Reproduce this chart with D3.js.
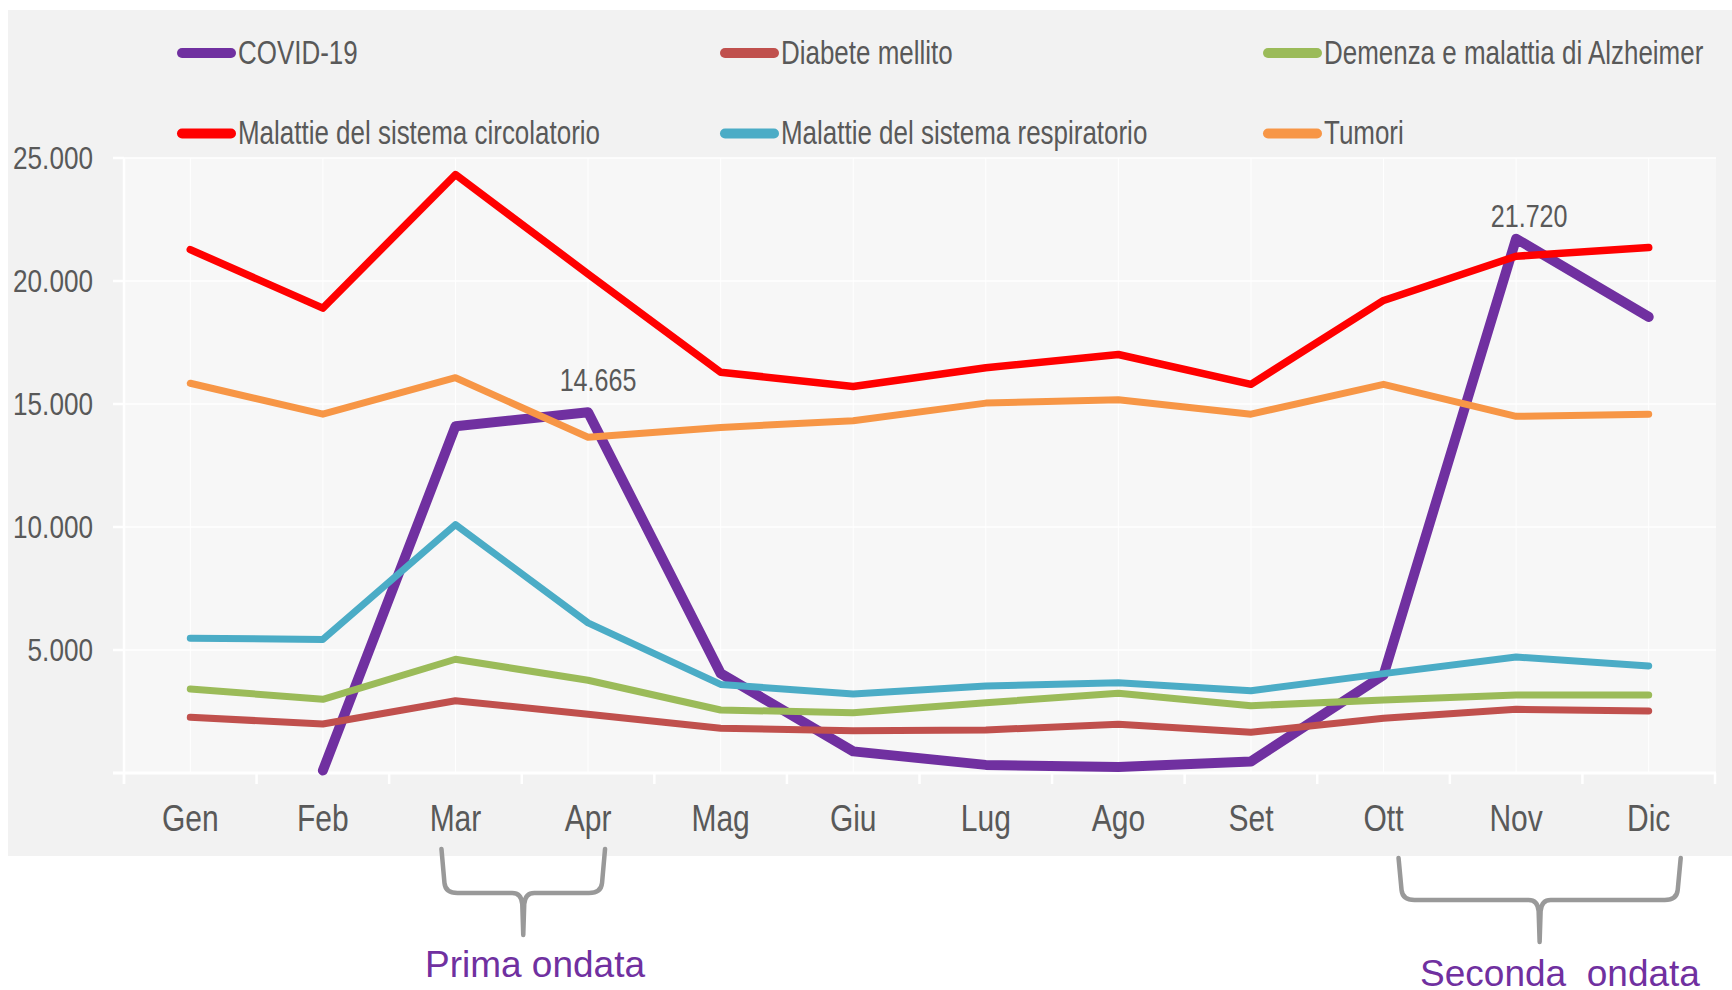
<!DOCTYPE html>
<html><head><meta charset="utf-8">
<script src="https://cdn.jsdelivr.net/npm/d3@7"></script>
<style>
html,body{margin:0;padding:0;background:#fff;}
svg{display:block;}
text{font-family:"Liberation Sans", Arial, Helvetica, sans-serif;}
</style>
</head><body>
<svg id="c" width="1732" height="990"></svg>
<script>
// ---- data ----
const months = ["Gen","Feb","Mar","Apr","Mag","Giu","Lug","Ago","Set","Ott","Nov","Dic"];
const seriesNames = ["COVID-19","Diabete mellito","Demenza e malattia di Alzheimer","Malattie del sistema circolatorio","Malattie del sistema respiratorio","Tumori"];
const covid        = [null, 100, 14093, 14665, 4050, 880, 330, 240, 470, 3980, 21720, 18540];
const diabete      = [2264, 1992, 2939, 2386, 1817, 1720, 1748, 1979, 1654, 2222, 2589, 2520];
const demenza      = [3415, 2995, 4623, 3770, 2561, 2451, 2858, 3240, 2736, 2967, 3171, 3171];
const circolatorio = [21275, 18896, 24327, 20287, 16293, 15709, 16472, 17011, 15799, 19210, 21005, 21364];
const respiratorio = [5476, 5431, 10099, 6104, 3600, 3211, 3537, 3671, 3346, 4039, 4713, 4354];
const tumori       = [15844, 14587, 16068, 13646, 14048, 14318, 15036, 15171, 14587, 15799, 14497, 14587];
const yTicks = [5000, 10000, 15000, 20000, 25000];
const labelledPoints = ["Apr", "Nov"]; // COVID-19 values labelled
const waves = [
  {label: "Prima ondata", from: "Mar", to: "Apr"},
  {label: "Seconda  ondata", from: "Ott", to: "Dic"}
];

// ---- styles ----
const colors = ["#7030A0","#C0504D","#9BBB59","#FF0000","#4BACC6","#F79646"];
const widths = [10, 7, 7, 7.5, 7, 7];
const values = [covid, diabete, demenza, circolatorio, respiratorio, tumori];
const textColor = "#595959";

const svg = d3.select("#c");
const fmt = d3.formatLocale({decimal: ",", thousands: ".", grouping: [3], currency: ["", "€"]}).format(",d");

// backgrounds
svg.append("rect").attr("x", 8).attr("y", 10).attr("width", 1724).attr("height", 846).attr("fill", "#F2F2F2");

const x = d3.scaleBand().domain(months).range([124, 1715]);
const xc = m => x(m) + x.bandwidth() / 2;
const y = d3.scaleLinear().domain([0, 25000]).range([773, 158]);

svg.append("rect").attr("x", 124).attr("y", y(25000)).attr("width", 1716 - 124).attr("height", y(0) - y(25000)).attr("fill", "#F7F7F7");

// gridlines
const grid = svg.append("g");
grid.selectAll("line.h").data(yTicks).join("line")
  .attr("x1", 124).attr("x2", 1716).attr("y1", d => y(d)).attr("y2", d => y(d))
  .attr("stroke", "#fff").attr("stroke-width", 1.5);
grid.selectAll("line.v").data(months).join("line")
  .attr("x1", d => xc(d)).attr("x2", d => xc(d)).attr("y1", y(25000)).attr("y2", y(0))
  .attr("stroke", "#fff").attr("stroke-width", 1);

// axes (white)
const ax = svg.append("g");
ax.append("line").attr("x1", 113).attr("x2", 1716).attr("y1", y(0)).attr("y2", y(0)).attr("stroke", "#fff").attr("stroke-width", 3);
ax.append("line").attr("x1", 124).attr("x2", 124).attr("y1", y(25000)).attr("y2", y(0) + 11).attr("stroke", "#fff").attr("stroke-width", 2.5);
ax.selectAll("line.yt").data(yTicks).join("line")
  .attr("x1", 113).attr("x2", 124).attr("y1", d => y(d)).attr("y2", d => y(d))
  .attr("stroke", "#fff").attr("stroke-width", 2.5);
const bounds = months.map(m => x(m)).concat([x(months[months.length - 1]) + x.bandwidth()]);
ax.selectAll("line.xt").data(bounds).join("line")
  .attr("x1", d => d).attr("x2", d => d).attr("y1", y(0)).attr("y2", y(0) + 11)
  .attr("stroke", "#fff").attr("stroke-width", 2.5);

// y labels
svg.append("g").selectAll("text").data(yTicks).join("text")
  .attr("transform", d => `translate(93,${y(d) + 11}) scale(0.83,1)`)
  .attr("text-anchor", "end").attr("font-size", 31.5).attr("fill", textColor)
  .text(d => fmt(d));

// x labels
svg.append("g").selectAll("text").data(months).join("text")
  .attr("transform", d => `translate(${xc(d)},831) scale(0.8,1)`)
  .attr("text-anchor", "middle").attr("font-size", 37.5).attr("fill", textColor)
  .text(d => d);

// lines
const line = d3.line().defined(d => d.v != null).x(d => xc(d.m)).y(d => y(d.v));
const lg = svg.append("g");
values.forEach((arr, i) => {
  lg.append("path")
    .datum(arr.map((v, j) => ({m: months[j], v})))
    .attr("d", line)
    .attr("fill", "none").attr("stroke", colors[i]).attr("stroke-width", widths[i])
    .attr("stroke-linecap", "round").attr("stroke-linejoin", "round");
});

// data labels
const labOff = {"Apr": [10, -21], "Nov": [13, -12]};
svg.append("g").selectAll("text").data(labelledPoints).join("text")
  .attr("transform", m => {
    const v = covid[months.indexOf(m)];
    return `translate(${xc(m) + labOff[m][0]},${y(v) + labOff[m][1]}) scale(0.81,1)`;
  })
  .attr("text-anchor", "middle").attr("font-size", 31).attr("fill", textColor)
  .text(m => fmt(covid[months.indexOf(m)]));

// legend
const legX = [177, 720, 1263], legY = [53, 133.5];
const leg = svg.append("g");
seriesNames.forEach((name, i) => {
  const cx = legX[i % 3], cy = legY[Math.floor(i / 3)];
  leg.append("line").attr("x1", cx + 5).attr("x2", cx + 54).attr("y1", cy).attr("y2", cy)
    .attr("stroke", colors[i]).attr("stroke-width", 10).attr("stroke-linecap", "round");
  leg.append("text").attr("transform", `translate(${cx + 61},${cy + 10.5}) scale(0.775,1)`)
    .attr("font-size", 33.5).attr("fill", textColor).text(name);
});

// braces
const braceGeom = [
  {dx0: -14, dx1: 17, top: 849, mid: 893, bot: 935, tx: 535, ty: 977},
  {dx0: 15, dx1: 32, top: 858, mid: 900, bot: 942, tx: 1560, ty: 986}
];
function bracePath(x0, x1, top, mid, bot) {
  const c = (x0 + x1) / 2;
  return `M${x0},${top} L${x0 + 3},${mid - 10} Q${x0 + 4},${mid} ${x0 + 16},${mid} L${c - 11},${mid} Q${c - 2},${mid} ${c - 1},${mid + 11} L${c},${bot}` +
         ` M${x1},${top} L${x1 - 3},${mid - 10} Q${x1 - 4},${mid} ${x1 - 16},${mid} L${c + 11},${mid} Q${c + 2},${mid} ${c + 1},${mid + 11} L${c},${bot}`;
}
const bg = svg.append("g");
waves.forEach((w, i) => {
  const g = braceGeom[i];
  bg.append("path").attr("d", bracePath(xc(w.from) + g.dx0, xc(w.to) + g.dx1, g.top, g.mid, g.bot))
    .attr("fill", "none").attr("stroke", "#999999").attr("stroke-width", 4.5)
    .attr("stroke-linecap", "round").attr("stroke-linejoin", "round");
  bg.append("text").attr("x", g.tx).attr("y", g.ty).attr("text-anchor", "middle")
    .attr("font-size", 37).attr("fill", "#7030A0").style("white-space", "pre").text(w.label);
});
</script>
</body></html>
